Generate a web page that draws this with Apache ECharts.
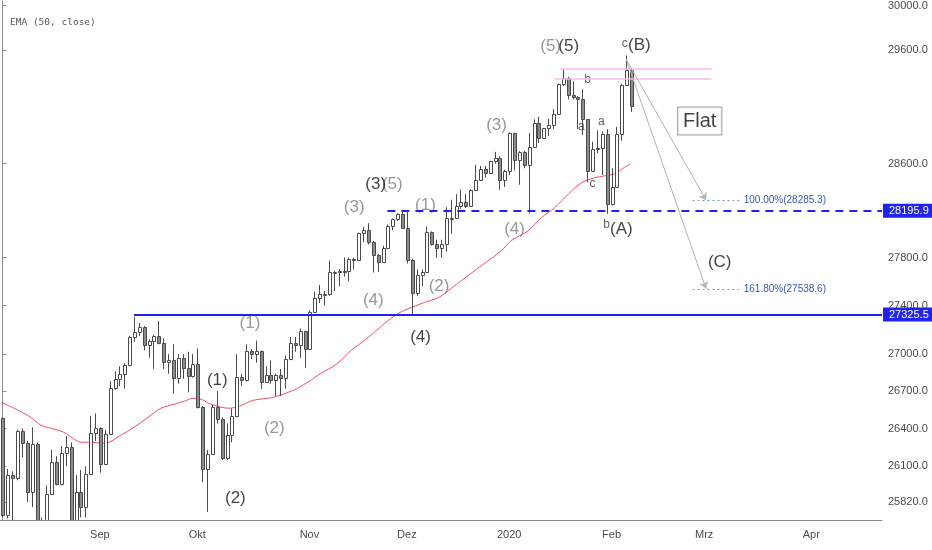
<!DOCTYPE html>
<html><head><meta charset="utf-8">
<script src="https://cdn.jsdelivr.net/npm/echarts@6/dist/echarts.min.js"></script>
<style>html,body{margin:0;padding:0;background:#fff}#c{width:932px;height:550px}</style>
</head><body><div id="c"></div>
<script>
// ---- calendar (trading days) ----
const startDate = [2019, 7, 5];
const barCount = 181;
const holidays = ['2019-09-02','2019-11-28','2019-12-25','2020-01-01','2020-01-20','2020-02-17','2020-04-10'];
const tickMonths = ['2019-09','2019-10','2019-11','2019-12','2020-01','2020-02','2020-03','2020-04'];
const tickNames  = ['Sep','Okt','Nov','Dez','2020','Feb','Mrz','Apr'];
const yTicks = [25820,26100,26400,26700,27000,27400,27800,28600,29600,30000];

// ---- daily candles (Aug 5 2019 .. Feb 7 2020) ----
const opens = [26485,25718,26030,26007,26378,26287,25896,26280,25479,25579,
25886,26136,25962,26203,26252,25629,25899,25778,26036,26362,
26403,26118,26355,26728,26797,26836,26909,27137,27182,27220,
27077,27111,27147,27095,26935,26950,26808,26971,26891,26820,
26917,26573,26079,26201,26574,26478,26164,26346,26497,26817,
26787,27025,27002,27026,26770,26828,26788,26834,26806,26958,
27091,27071,27187,27046,27347,27462,27493,27492,27675,27681,
27691,27691,27784,27782,28005,28036,27934,27821,27766,27876,
28066,28122,28164,28051,27783,27503,27650,27678,28015,27910,
27882,27911,28132,28135,28236,28267,28239,28377,28455,28552,
28515,28621,28645,28462,28538,28869,28635,28703,28584,28745,
28957,28824,28907,28940,29030,29298,29348,29196,29186,29160,
28990,28536,28723,28734,28859,28256,28400,28860,29291,29420];
const closes = [25718,26030,26007,26378,26287,25896,26280,25479,25579,25886,
26136,25962,26203,26252,25629,25899,25778,26036,26362,26403,
26118,26355,26728,26797,26836,26909,27137,27182,27220,27077,
27111,27147,27095,26935,26950,26808,26971,26891,26820,26917,
26573,26079,26201,26574,26478,26164,26346,26497,26817,26787,
27025,27002,27026,26770,26828,26788,26834,26806,26958,27091,
27071,27187,27046,27347,27462,27493,27492,27675,27681,27691,
27691,27784,27782,28005,28036,27934,27821,27766,27876,28066,
28122,28164,28051,27783,27503,27650,27678,28015,27910,27882,
27911,28132,28135,28236,28267,28239,28377,28455,28552,28515,
28621,28645,28462,28538,28869,28635,28703,28584,28745,28957,
28824,28907,28940,29030,29298,29348,29196,29186,29160,28990,
28536,28723,28734,28859,28256,28400,28860,29291,29420,29103];
const lows = [25700,25692,25597,25990,26170,25820,25780,25468,25339,25570,
25880,25950,25950,26100,25550,25620,25700,25700,26030,26300,
26050,26110,26350,26710,26740,26720,26900,27100,27150,27030,
26970,26880,27080,26880,26840,26680,26760,26800,26690,26810,
26560,25974,25743,26200,26440,26150,26150,26290,26490,26740,
26780,26960,26930,26720,26770,26760,26660,26660,26720,26950,
27020,26970,26890,27040,27340,27420,27400,27480,27520,27560,
27640,27600,27700,27780,27930,27910,27675,27680,27760,27870,
28030,28110,28040,27750,27325.5,27480,27560,27670,27900,27800,
27800,27850,28000,28130,28210,28220,28230,28370,28450,28480,
28510,28600,28376,28400,28500,28540,28418,28560,28173,28740,
28780,28820,28840,28900,29030,29280,29160,29160,28900,28850,
28440,28530,28690,28502,28170,28240,28400,28800,29280,29050];
const highs = [26490,26080,26060,26390,26400,26300,26410,26290,25700,25950,
26230,26180,26260,26340,26290,26030,26070,26100,26500,26520,
26410,26390,26780,26860,26900,26925,27150,27306,27255,27230,
27120,27160,27272,27130,27000,27080,27000,27000,27020,27000,
27046,26580,26230,26590,26700,26490,26440,26560,27000,26840,
27080,27040,27110,27030,26900,26950,26840,26880,26990,27140,
27140,27210,27190,27360,27515,27570,27520,27775,27690,27700,
27800,27800,27800,28010,28060,28090,27940,27830,27900,28080,
28130,28175,28200,28196,27790,27700,27700,28060,28020,27950,
27950,28225,28290,28337,28376,28340,28380,28590,28580,28580,
28625,28702,28665,28547,28872,28870,28708,28710,28866,28985,
29009,28910,28990,29075,29300,29430,29360,29320,29190,29250,
28990,28790,28890,28880,28900,28560,28920,29300,29550,29430];

// ---- EMA(50): bar position / value ----
const emaIdx = [-0.3,2.4,5.8,7.9,10,12.6,14.1,16.1,18.2,20.2,21.9,24.3,27,29.9,32.5,35.2,37.3,39.1,40.8,42.8,
46.5,48.6,51.5,55.6,59.7,62.3,65.4,68.5,71.6,75.1,78.4,81.2,83.9,86.6,89.5,91.5,94.2,98.3,102.4,104.4,
107.9,110.6,113.3,116.2,118.8,121.5,123.6,125.6,127.5,128.9];
const emaVals = [26610,26562,26490,26426,26402,26370,26331,26291,26291,26283,26291,26347,26410,26490,26562,26594,26618,26642,26634,26594,
26562,26578,26626,26650,26707,26763,26844,26917,27031,27137,27251,27334,27383,27425,27466,27524,27607,27732,27858,27942,
28026,28137,28221,28341,28435,28478,28495,28512,28564,28598];

// ---- wave annotations [bar position, price, text] ----
const waveBlack = [[44.1,26787,'(1)'],[47.8,25851,'(2)'],[76.6,28418,'(3)'],[85.8,27137,'(4)'],[116.2,29634,'(5)'],[127,28034,'(A)'],[130.7,29642,'(B)'],[147.2,27757,'(C)']];
const waveGrey = [[50.8,27251,'(1)'],[55.8,26402,'(2)'],[72.2,28221,'(3)'],[76.1,27441,'(4)'],[80.0,28418,'(5)'],[86.8,28238,'(1)'],[89.6,27557,'(2)'],[101.4,28936,'(3)'],[105.1,28034,'(4)'],[112.5,29634,'(5)']];
const subWave = [[127.7,29660,'c'],[120.1,29332,'b'],[118.8,28919,'a'],[122.9,28962,'a'],[121.1,28426,'c'],[124,28077,'b']];
const flatNote = [[143.1,28971,'Flat']];

// ---- drawn levels ----
const levelDashed = 28195.9, levelDashedFrom = 79;
const levelSolid = 27325.5, levelSolidFrom = 27;
const fibValues = [28285.3, 27538.6];
const fibNames = ['100.00%', '161.80%'];
const fibFrom = 141.6, fibTo = 151.3;
const arrowFrom = [128, 29518];
const arrowTo = 144.4;
const pinkValues = [29432, 29343];
const pinkFrom = [114.4, 113.3];
const pinkTo = 145.5;
const lastClose = 29103;
const countdownText = '01:44:53';

// ---- build ----
const dates = [];
(function () {
  let t = Date.UTC(startDate[0], startDate[1], startDate[2]);
  while (dates.length < barCount) {
    const d = new Date(t);
    const s = d.toISOString().slice(0, 10);
    const w = d.getUTCDay();
    if (w !== 0 && w !== 6 && holidays.indexOf(s) < 0) dates.push(s);
    t += 86400000;
  }
})();
function isMonthTick(i) {
  if (i <= 0) return false;
  const m = dates[i].slice(0, 7);
  return m !== dates[i - 1].slice(0, 7) && tickMonths.indexOf(m) >= 0;
}
const candles = opens.map((o, i) => [i, o, closes[i], lows[i], highs[i]]);
const ema = emaIdx.map((x, i) => [x, emaVals[i]]);
const XMAX = barCount - 0.5;
const axisFont = "'Liberation Sans Narrow','Liberation Sans',sans-serif";
const blue = '#1f22f0';
const boxLabel = (txt, bg, fg) => ({show: true, position: 'end', distance: 1, formatter: txt, color: fg,
  backgroundColor: bg, padding: [2, 7, 1, 6], fontSize: 11, fontFamily: axisFont});

const lines = [
  [{coord: [levelSolidFrom, levelSolid], lineStyle: {color: blue, width: 2, type: 'solid'},
    label: boxLabel(levelSolid.toFixed(1), blue, '#fff')}, {coord: [XMAX, levelSolid]}],
  [{coord: [levelDashedFrom, levelDashed], lineStyle: {color: blue, width: 2, type: [8, 6]},
    label: boxLabel(levelDashed.toFixed(1), blue, '#fff')}, {coord: [XMAX, levelDashed]}],
  [{coord: [129, lastClose], lineStyle: {opacity: 0},
    label: boxLabel(countdownText, '#c3c4c8', '#222')}, {coord: [XMAX, lastClose]}]
];
pinkValues.forEach((v, k) => {
  lines.push([{coord: [pinkFrom[k], v], lineStyle: {color: '#f7bde9', width: 1.5, type: 'solid'}, label: {show: false}}, {coord: [pinkTo, v]}]);
});
fibValues.forEach((v, k) => {
  lines.push([{coord: [fibFrom, v], lineStyle: {color: '#7c93cf', width: 1, type: [2, 3]},
    label: {show: true, position: 'end', distance: 4, formatter: fibNames[k] + '(' + v.toFixed(1) + ')',
      color: '#3557b7', fontSize: 10, fontFamily: "'Liberation Sans',sans-serif"}}, {coord: [fibTo, v]}]);
  lines.push([{coord: arrowFrom, symbol: 'none', lineStyle: {color: '#b4b4b4', width: 1, type: 'solid'}, label: {show: false}},
    {coord: [arrowTo, v], symbol: 'arrow', symbolSize: 7}]);
});

function renderCandle(params, api) {
  const idx = api.value(0), o = api.value(1), c = api.value(2), l = api.value(3), h = api.value(4);
  const pO = api.coord([idx, o]), pC = api.coord([idx, c]);
  const pL = api.coord([idx, l]), pH = api.coord([idx, h]);
  const cx = Math.round(pO[0]);
  const top = Math.round(Math.min(pO[1], pC[1])) + 0.5;
  const bot = Math.round(Math.max(pO[1], pC[1])) + 0.5;
  const up = c >= o;
  return {type: 'group', children: [
    {type: 'line', shape: {x1: cx + 0.5, y1: pH[1], x2: cx + 0.5, y2: pL[1]},
      style: {stroke: '#4a4a4a', lineWidth: 1}},
    {type: 'rect', shape: {x: cx - 0.5, y: top, width: 3, height: Math.max(bot - top, 1)},
      style: {fill: up ? '#ffffff' : '#8c8c8c', stroke: '#4a4a4a', lineWidth: 1}}
  ]};
}

const textSeries = (data, color, size, extra) => Object.assign({
  type: 'scatter', xAxisIndex: 1, yAxisIndex: 0, data: data, symbolSize: 1, clip: false,
  itemStyle: {color: 'rgba(0,0,0,0)'}, silent: true, z: 6,
  label: {show: true, position: 'inside', formatter: p => p.data[2], color: color, fontSize: size,
    fontFamily: "'Liberation Sans',sans-serif"}
}, extra || {});

const option = {
  animation: false,
  backgroundColor: '#ffffff',
  title: {text: 'EMA (50, close)', left: 5, top: 13,
    textStyle: {fontSize: 9.5, fontWeight: 'normal', color: '#555', fontFamily: "'DejaVu Sans Mono',monospace"}},
  grid: {left: -1, right: 50, top: 0, bottom: 30},
  xAxis: [{
    type: 'category', data: dates, boundaryGap: true,
    axisLine: {lineStyle: {color: '#8a8a8a'}},
    axisTick: {alignWithLabel: true, interval: isMonthTick, length: 4, lineStyle: {color: '#8a8a8a'}},
    axisLabel: {interval: isMonthTick, formatter: v => tickNames[tickMonths.indexOf(v.slice(0, 7))],
      color: '#4a4a4a', fontSize: 11, margin: 9, fontFamily: axisFont},
    splitLine: {show: false}
  }, {
    type: 'value', min: -0.5, max: XMAX, show: false
  }],
  yAxis: {
    type: 'log', position: 'right', min: 25680, max: 30039,
    axisLine: {show: true, lineStyle: {color: '#8a8a8a'}},
    axisTick: {show: true, length: 4, customValues: yTicks, lineStyle: {color: '#8a8a8a'}},
    axisLabel: {customValues: yTicks, formatter: v => Number(v).toFixed(1), color: '#4a4a4a',
      fontSize: 11, margin: 6, fontFamily: axisFont},
    splitLine: {show: false}
  },
  series: [
    {type: 'line', xAxisIndex: 1, data: ema, symbol: 'none', smooth: 0.3, z: 2, clip: true,
      lineStyle: {color: '#f24d68', width: 1}, silent: true},
    {type: 'custom', xAxisIndex: 1, data: candles, renderItem: renderCandle, clip: true, z: 3, silent: true,
      encode: {x: 0, y: [1, 2, 3, 4]}},
    textSeries(waveGrey, '#7e7e7e', 17),
    textSeries(subWave, '#333333', 12),
    textSeries(flatNote, '#111111', 20, {label: {show: true, position: 'inside', formatter: p => p.data[2],
      color: '#111', fontSize: 20, fontFamily: "'Liberation Sans',sans-serif", backgroundColor: '#fff',
      borderColor: '#8c8c8c', borderWidth: 1, padding: [4, 5, 3, 5]}}),
    textSeries(waveBlack, '#131313', 17, {
      markLine: {silent: true, symbol: ['none', 'none'], precision: 1, data: lines, z: 8,
        emphasis: {disabled: true}, animation: false}
    })
  ]
};
const chart = echarts.init(document.getElementById('c'), null, {renderer: 'canvas'});
chart.setOption(option);
</script></body></html>
